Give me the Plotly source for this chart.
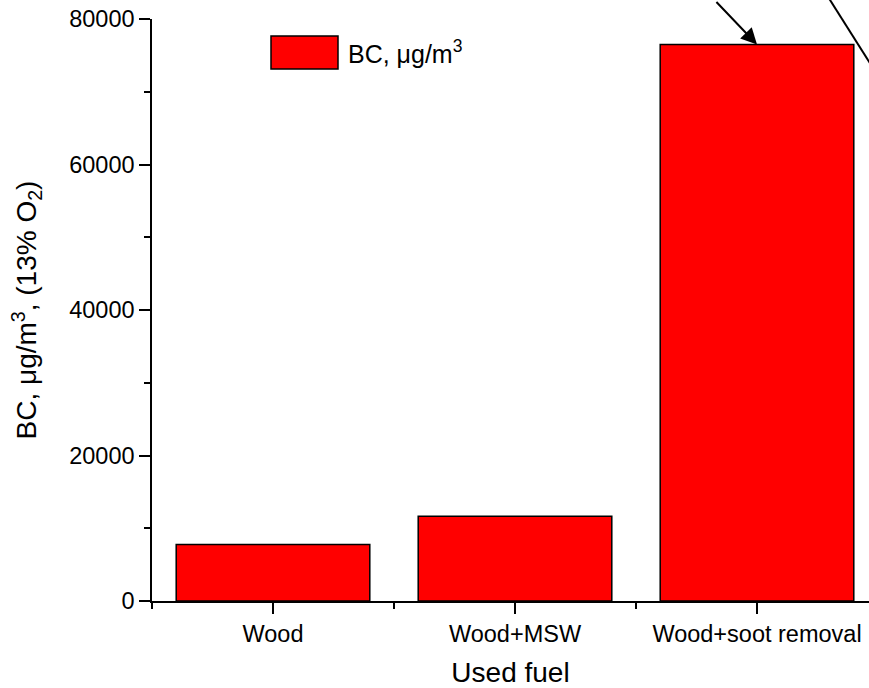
import plotly.graph_objects as go

fuels = ["Wood", "Wood+MSW", "Wood+soot removal"]
bc_values = [7750, 11650, 76500]
y_ticks = [0, 20000, 40000, 60000, 80000]
legend_label = "BC, μg/m<sup>3</sup>"

FONT = "Liberation Sans, Arial, sans-serif"
W, H = 869, 688
ML, MR, MT, MB = 152, 0, 19, 87
pw, ph = W - ML - MR, H - MT - MB
cat_px = 242.0  # pixel width of one category

def px2paper(px, py):
    return (px - ML) / pw, (H - MB - py) / ph

xpos = list(range(len(fuels)))

fig = go.Figure()
fig.add_trace(go.Bar(
    x=xpos, y=bc_values, width=0.8, name=legend_label,
    marker=dict(color="#FF0000", line=dict(color="black", width=1.5)),
    showlegend=False,
))

fig.update_layout(
    width=W, height=H,
    margin=dict(l=ML, r=MR, t=MT, b=MB, autoexpand=False),
    plot_bgcolor="white", paper_bgcolor="white",
    font=dict(family=FONT, color="black", size=23.5),
    bargap=0.2,
)
fig.update_xaxes(
    range=[-0.5, -0.5 + pw / cat_px],
    tickmode="array", tickvals=xpos, ticktext=fuels,
    showline=True, linecolor="black", linewidth=1.5,
    ticks="outside", ticklen=11, tickwidth=1.5, tickcolor="black",
    minor=dict(ticks="outside", ticklen=6, tickwidth=1.5, tickcolor="black",
               tick0=-0.5, dtick=1, showgrid=False),
    showgrid=False, zeroline=False,
    tickfont=dict(size=23.5), ticklabeloverflow="allow",
    title=dict(text="Used fuel", font=dict(size=28), standoff=29),
)
fig.update_yaxes(
    range=[0, 80000],
    tickmode="array", tickvals=y_ticks, tickformat="d",
    showline=True, linecolor="black", linewidth=1.5,
    ticks="outside", ticklen=11, tickwidth=1.5, tickcolor="black",
    minor=dict(ticks="outside", ticklen=6, tickwidth=1.5, tickcolor="black",
               dtick=10000, showgrid=False),
    showgrid=False, zeroline=False,
    tickfont=dict(size=23.5), ticklabeloverflow="allow",
    title=dict(text="BC, μg/m<sup>3</sup>, (13% O<sub>2</sub>)", font=dict(size=28), standoff=24),
)

# manual legend (large swatch)
x0, y1 = px2paper(271, 36)
x1, y0 = px2paper(338, 69)
fig.add_shape(type="rect", xref="paper", yref="paper", x0=x0, x1=x1, y0=y0, y1=y1,
              fillcolor="#FF0000", line=dict(color="black", width=1.5))
tx, ty = px2paper(346, 52)
fig.add_annotation(xref="paper", yref="paper", x=tx, y=ty, text=legend_label,
                   showarrow=False, xanchor="left", yanchor="middle",
                   font=dict(size=25, family=FONT, color="black"))

# arrow pointing to top of the tallest bar
fig.add_annotation(x=xpos[2], y=bc_values[2], text="", showarrow=True,
                   arrowhead=2, arrowsize=1.6, arrowwidth=2, arrowcolor="black",
                   ax=-42, ay=-44, standoff=0)

# second diagonal line at top right
lx0, ly0 = px2paper(823.7, -10)
lx1, ly1 = px2paper(880, 79)
fig.add_shape(type="line", xref="paper", yref="paper", x0=lx0, y0=ly0, x1=lx1, y1=ly1,
              line=dict(color="black", width=2))

fig.write_html(
    "out.html",
    config={"displayModeBar": False},
    post_script="document.body.style.margin='0';document.body.style.overflow='hidden';",
)
